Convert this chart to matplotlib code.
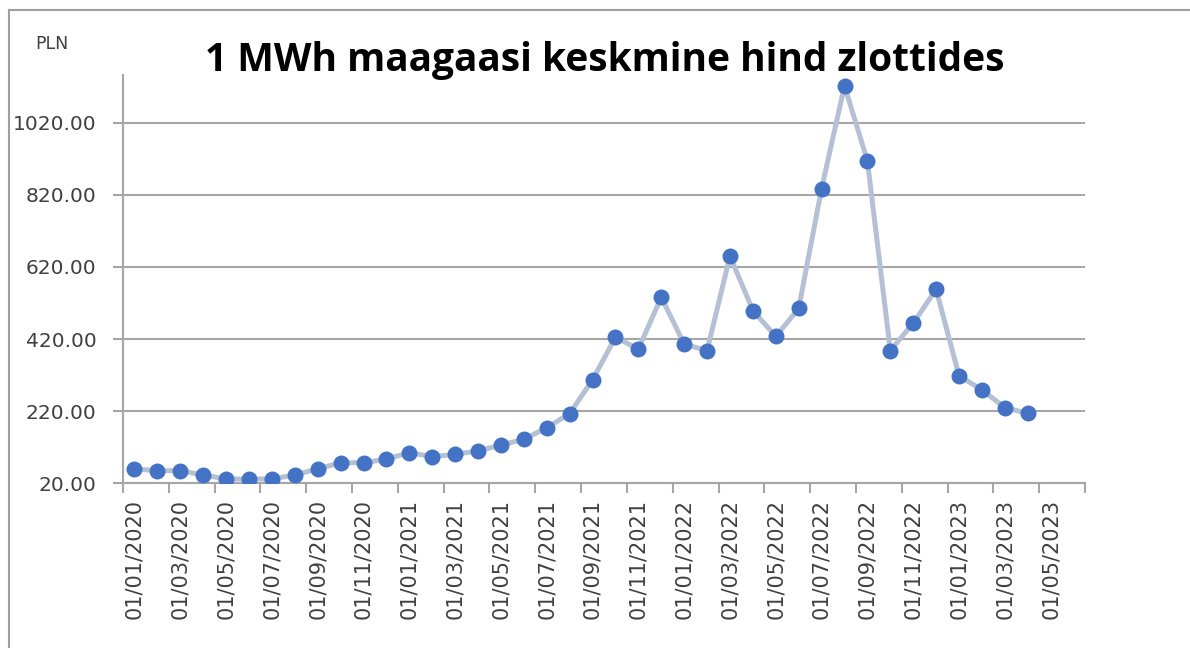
import numpy as np
import matplotlib
matplotlib.use("Agg")
import matplotlib.pyplot as plt
from matplotlib.lines import Line2D

# monthly average price, Jan 2020 .. Apr 2023
prices = [60, 55, 55, 43, 32, 32, 32, 43, 60, 77, 77, 87,
          105, 94, 100, 110, 126, 142, 174, 213, 307, 425, 392, 536,
          406, 388, 650, 499, 427, 505, 837, 1122, 914, 388, 464, 558,
          318, 279, 230, 214]

# tick labels every second month, Jan 2020 .. May 2023
tick_labels = ["01/%02d/%d" % (m, y) for y in (2020, 2021, 2022, 2023)
               for m in (1, 3, 5, 7, 9, 11)][:21]
n_slots = 42  # axis runs to end of June 2023

y_ticks = [20, 220, 420, 620, 820, 1020]

fig = plt.figure(figsize=(11.9, 6.48), dpi=100)
ax = fig.add_axes([123 / 1190, 1 - 483.3 / 648, 962 / 1190, (483.3 - 75) / 648])

x = np.arange(len(prices))
ax.plot(x, prices, color="#b4c0d4", linewidth=3.6, zorder=3,
        marker="o", markersize=11.5, markerfacecolor="#4472c4",
        markeredgecolor="#4472c4", markeredgewidth=0)

ax.set_xlim(-0.5, n_slots - 0.5)
ax.set_ylim(20, 1152)

grid_c = "#a6a6a6"
ax.set_yticks(y_ticks)
ax.set_yticklabels(["%.2f" % v for v in y_ticks])
ax.yaxis.grid(True, color=grid_c, linewidth=1.5)
ax.set_axisbelow(True)

ax.set_xticks(np.arange(-0.5, n_slots, 2))
ax.set_xticklabels([])
ax.set_xticks(np.arange(0, 2 * len(tick_labels), 2), minor=True)
ax.set_xticklabels(tick_labels, minor=True, rotation=90)

ax.tick_params(axis="y", length=7, width=1.5, color=grid_c,
               labelsize=14.5, labelcolor="#404040", pad=12)
ax.tick_params(axis="x", which="major", length=7, width=1.5, color=grid_c)
ax.tick_params(axis="x", which="minor", length=0, labelsize=15,
               labelcolor="#404040", pad=11)

for s in ("top", "right"):
    ax.spines[s].set_visible(False)
for s in ("left", "bottom"):
    ax.spines[s].set_color(grid_c)
    ax.spines[s].set_linewidth(1.5)

fig.text(605 / 1190, 1 - 61 / 648, "1 MWh maagaasi keskmine hind zlottides",
         ha="center", va="center", fontsize=28, fontweight="bold",
         family=["Open Sans", "DejaVu Sans"], color="black")
fig.text(52 / 1190, 1 - 44 / 648, "PLN", ha="center", va="center",
         fontsize=12.5, color="#404040")

# chart frame
fig.add_artist(Line2D([8.5 / 1190, 8.5 / 1190], [0, 1 - 10 / 648],
                      transform=fig.transFigure, color="#a0a0a0", linewidth=1.5))
fig.add_artist(Line2D([8.5 / 1190, 1], [1 - 10 / 648, 1 - 10 / 648],
                      transform=fig.transFigure, color="#a0a0a0", linewidth=1.5))

fig.savefig("out.png", dpi=100)
